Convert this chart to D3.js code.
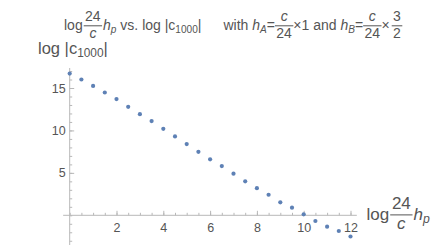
<!DOCTYPE html>
<html>
<head>
<meta charset="utf-8">
<script src="https://cdn.jsdelivr.net/npm/d3@7"></script>
<style>
  body { margin: 0; background: #fff; }
  svg { display: block; font-family: "Liberation Sans", Arial, sans-serif; }
  svg text { white-space: pre; }
</style>
</head>
<body>
<div class="chart"></div>
<script>
// data
var xVals = [0, 0.5, 1, 1.5, 2, 2.5, 3, 3.5, 4, 4.5, 5, 5.5, 6, 6.5, 7, 7.5, 8, 8.5, 9, 9.5, 10, 10.5, 11, 11.5, 12];
var yVals = [16.7, 16.0, 15.25, 14.47, 13.7, 12.78, 11.92, 11.1, 10.19, 9.29, 8.39, 7.48, 6.59, 5.8, 4.9, 4.0, 3.2, 2.42, 1.53, 0.9, 0.12, -0.67, -1.34, -1.85, -2.5];
var xTicks = [2, 4, 6, 8, 10, 12];
var yTicks = [5, 10, 15];
var xMinor = [0, 0.5, 1, 1.5, 2, 2.5, 3, 3.5, 4, 4.5, 5, 5.5, 6, 6.5, 7, 7.5, 8, 8.5, 9, 9.5, 10, 10.5, 11, 11.5, 12];
var yMinor = [-3, -2, -1, 0, 1, 2, 3, 4, 5, 6, 7, 8, 9, 10, 11, 12, 13, 14, 15, 16, 17];

var data = xVals.map(function(d, i) { return {x: d, y: yVals[i]}; });

var W = 436, H = 249;
var textCol = "#555", axisCol = "#b8b8b8";

var svg = d3.select(".chart").append("svg")
    .attr("width", W)
    .attr("height", H);

// scales
var x = d3.scaleLinear().domain([0, 12]).range([69.7, 350.5]);
var y = d3.scaleLinear().domain([0, 15]).range([215.3, 88]);

// x axis
var gx = svg.append("g").attr("transform", "translate(0," + y(0) + ")");
gx.call(d3.axisBottom(x).tickValues(xMinor).tickSizeInner(-2.5).tickSizeOuter(0).tickFormat(""));
gx.select(".domain").attr("d", "M" + x(-0.28) + ",0H" + x(12.27));
var gx2 = svg.append("g").attr("transform", "translate(0," + y(0) + ")");
gx2.call(d3.axisBottom(x).tickValues(xTicks).tickSizeInner(-4.5).tickSizeOuter(0).tickPadding(8));
gx2.select(".domain").remove();

// y axis
var gy = svg.append("g").attr("transform", "translate(" + x(0) + ",0)");
gy.call(d3.axisLeft(y).tickValues(yMinor).tickSizeInner(-2.5).tickSizeOuter(0).tickFormat(""));
gy.select(".domain").attr("d", "M0," + 68 + "V" + 245);
var gy2 = svg.append("g").attr("transform", "translate(" + x(0) + ",0)");
gy2.call(d3.axisLeft(y).tickValues(yTicks).tickSizeInner(-4.5).tickSizeOuter(0).tickPadding(4));
gy2.select(".domain").remove();

svg.selectAll(".domain, .tick line").attr("stroke", axisCol);
svg.selectAll(".tick text")
    .attr("fill", textCol)
    .style("font-size", "12.5px")
    .style("font-family", "'Liberation Sans', Arial, sans-serif");

// points
svg.selectAll("mycircle")
  .data(data)
  .enter()
  .append("circle")
  .attr("cx", function(d) { return x(d.x); })
  .attr("cy", function(d) { return y(d.y); })
  .attr("r", 2.1)
  .style("fill", "#5E81B5");

// little helper for math-like text rows
function mathRow(x0, base, size, parts) {
  var g = svg.append("g").attr("fill", textCol).style("font-size", size + "px");
  var cx = x0;
  parts.forEach(function(p) {
    if (p.gap) { cx += p.gap; return; }
    if (p.frac) {
      var a = g.append("text").attr("y", base - size * 0.62).style("font-style", p.itTop ? "italic" : null).text(p.frac[0]);
      var b = g.append("text").attr("y", base + size * 0.55).style("font-style", p.itBot ? "italic" : null).text(p.frac[1]);
      var wa = a.node().getComputedTextLength(), wb = b.node().getComputedTextLength();
      var w = Math.max(wa, wb) + size * 0.2;
      a.attr("x", cx + (w - wa) / 2);
      b.attr("x", cx + (w - wb) / 2);
      g.append("line")
        .attr("x1", cx).attr("x2", cx + w)
        .attr("y1", base - size * 0.3).attr("y2", base - size * 0.3)
        .attr("stroke", textCol).attr("stroke-width", 1);
      cx += w;
      return;
    }
    var t = g.append("text").attr("x", cx).attr("y", base)
      .style("font-style", p.it ? "italic" : null).text(p.t);
    cx += t.node().getComputedTextLength();
    if (p.sub) {
      var s = g.append("text").attr("x", cx).attr("y", base + size * 0.2)
        .style("font-size", (size * 0.72) + "px")
        .style("font-style", p.subIt ? "italic" : null).text(p.sub);
      cx += s.node().getComputedTextLength();
    }
  });
  return cx;
}

// title
mathRow(64, 30, 14, [
  {t: "log"}, {gap: 1}, {frac: ["24", "c"], itBot: true}, {gap: 1},
  {t: "h", it: true, sub: "p", subIt: true},
  {t: " vs. log |c", sub: "1000"}, {t: "|"}, {gap: 22},
  {t: "with "}, {t: "h", it: true, sub: "A", subIt: true}, {t: "="},
  {frac: ["c", "24"], itTop: true}, {t: "\u00d71 and "},
  {t: "h", it: true, sub: "B", subIt: true}, {t: "="},
  {frac: ["c", "24"], itTop: true}, {t: "\u00d7"}, {gap: 2}, {frac: ["3", "2"]}
]);

// y axis label
mathRow(38, 54, 16.5, [{t: "log |c", sub: "1000"}, {t: "|"}]);

// x axis label
mathRow(366.5, 220, 17, [
  {t: "log"}, {gap: 1}, {frac: ["24", "c"], itBot: true}, {gap: 1},
  {t: "h", it: true, sub: "p", subIt: true}
]);
</script>
</body>
</html>
